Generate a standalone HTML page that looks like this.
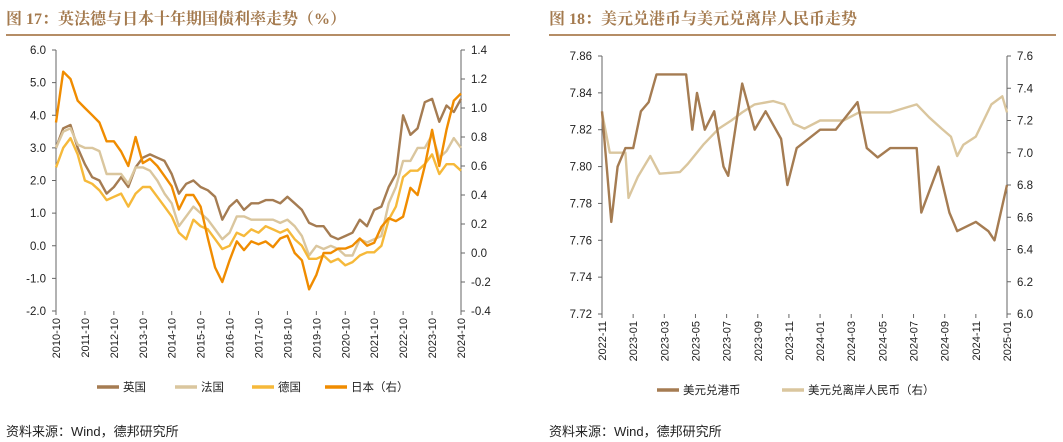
<!DOCTYPE html>
<html><head><meta charset="utf-8">
<style>
body{margin:0;width:1063px;height:442px;background:#fff;overflow:hidden;font-family:"Liberation Sans","Noto Sans CJK SC",sans-serif;}
svg{position:absolute;left:0;top:0}
.tt{font-family:"Liberation Serif","Noto Serif CJK SC",serif;}
</style></head>
<body>
<svg id="s" width="1063" height="442">
<text class="tt" x="6" y="24" font-size="16" font-weight="bold" fill="#a47a4e">图 17：英法德与日本十年期国债利率走势（%）</text>
<line x1="6" y1="35" x2="510" y2="35" stroke="#b58d66" stroke-width="2"/>
<text class="tt" x="549" y="24" font-size="16" font-weight="bold" fill="#a47a4e">图 18：美元兑港币与美元兑离岸人民币走势</text>
<line x1="549" y1="35" x2="1056" y2="35" stroke="#b58d66" stroke-width="2"/>
<text x="6" y="436" font-size="13" fill="#222">资料来源：Wind，德邦研究所</text>
<text x="549" y="436" font-size="13" fill="#222">资料来源：Wind，德邦研究所</text>
</svg>
<script>
// ---- Chart 17 data (quarterly from 2010-10) ----
const bondXLabels=["2010-10","2011-10","2012-10","2013-10","2014-10","2015-10","2016-10","2017-10","2018-10","2019-10","2020-10","2021-10","2022-10","2023-10","2024-10"];
const bondLeftTicks=[6.0,5.0,4.0,3.0,2.0,1.0,0.0,-1.0,-2.0];
const bondRightTicks=[1.4,1.2,1.0,0.8,0.6,0.4,0.2,0.0,-0.2,-0.4];
const ukYield=[3.0,3.6,3.7,3.0,2.5,2.1,2.0,1.6,1.8,2.1,1.8,2.4,2.7,2.8,2.7,2.6,2.2,1.6,1.9,2.0,1.8,1.7,1.5,0.8,1.2,1.4,1.1,1.3,1.3,1.4,1.4,1.3,1.5,1.3,1.1,0.7,0.6,0.6,0.3,0.2,0.3,0.4,0.8,0.6,1.1,1.2,1.8,2.2,4.0,3.4,3.6,4.4,4.5,3.8,4.3,4.1,4.5];
const frYield=[3.0,3.5,3.6,3.1,3.0,3.0,2.9,2.2,2.2,2.2,1.9,2.4,2.4,2.3,2.0,1.6,1.3,0.6,0.9,1.2,1.0,0.8,0.5,0.2,0.4,0.9,0.9,0.8,0.8,0.8,0.8,0.7,0.8,0.6,0.3,-0.3,0.0,-0.1,0.0,-0.1,-0.3,-0.3,0.2,0.1,0.2,0.3,1.3,1.8,2.6,2.6,3.0,3.0,3.4,2.7,2.9,3.3,3.0];
const deYield=[2.4,3.0,3.3,2.8,2.0,1.9,1.7,1.4,1.5,1.6,1.2,1.6,1.8,1.8,1.5,1.2,0.9,0.4,0.2,0.8,0.6,0.5,0.2,-0.1,0.0,0.4,0.3,0.5,0.4,0.6,0.5,0.4,0.5,0.2,0.0,-0.4,-0.4,-0.3,-0.5,-0.4,-0.6,-0.5,-0.3,-0.2,-0.2,0.0,0.8,1.2,2.1,2.3,2.3,2.5,2.8,2.2,2.5,2.5,2.3];
const jpYield=[0.9,1.25,1.2,1.05,1.0,0.95,0.9,0.77,0.77,0.7,0.6,0.8,0.62,0.65,0.6,0.53,0.46,0.3,0.4,0.4,0.32,0.1,-0.1,-0.2,-0.05,0.08,0.02,0.08,0.06,0.08,0.04,0.1,0.12,0.0,-0.05,-0.25,-0.15,0.0,0.0,0.03,0.03,0.05,0.1,0.05,0.07,0.18,0.24,0.22,0.25,0.45,0.4,0.6,0.85,0.6,0.85,1.05,1.1];
// ---- Chart 18 data (month index from 2022-11) ----
const fxXLabels=["2022-11","2023-01","2023-03","2023-05","2023-07","2023-09","2023-11","2024-01","2024-03","2024-05","2024-07","2024-09","2024-11","2025-01"];
const fxLeftTicks=[7.86,7.84,7.82,7.80,7.78,7.76,7.74,7.72];
const fxRightTicks=[7.6,7.4,7.2,7.0,6.8,6.6,6.4,6.2,6.0];
const hkdMonths=[0,0.3,0.6,1,1.5,2,2.5,3,3.5,4,5,5.4,5.8,6.1,6.6,7.2,7.8,8.1,9.0,9.8,10.5,11.5,11.9,12.5,14,15,16.4,17,17.7,18.5,19.5,20.2,20.5,21.6,22.3,22.8,24,24.8,25.2,26];
const hkdRate=[7.83,7.80,7.77,7.80,7.81,7.81,7.83,7.835,7.85,7.85,7.85,7.85,7.82,7.84,7.82,7.83,7.80,7.795,7.845,7.82,7.83,7.815,7.79,7.81,7.82,7.82,7.835,7.81,7.805,7.81,7.81,7.81,7.775,7.80,7.775,7.765,7.77,7.765,7.76,7.79];
const cnhMonths=[0,0.5,1.5,1.7,2.3,3.1,3.7,5,5.5,6.5,7.5,8.3,9,9.8,11,11.7,12.3,13,14,15.5,16.5,17.5,18.5,19.5,20.2,21,21.8,22.4,22.8,23.2,24,24.5,25,25.7,26];
const cnhRate=[7.25,7.0,7.0,6.72,6.85,6.98,6.87,6.88,6.93,7.05,7.15,7.2,7.25,7.3,7.32,7.3,7.18,7.15,7.2,7.2,7.25,7.25,7.25,7.28,7.3,7.22,7.15,7.1,6.98,7.05,7.1,7.2,7.3,7.35,7.25];

const svg=document.getElementById('s');
const NS='http://www.w3.org/2000/svg';
function mk(tag,attrs,parent){const e=document.createElementNS(NS,tag);for(const k in attrs)e.setAttribute(k,attrs[k]);(parent||svg).appendChild(e);return e;}
function txt(x,y,s,anchor,size){const t=mk('text',{x:x,y:y,'font-size':size||11.5,fill:'#222','text-anchor':anchor||'start'});t.textContent=s;return t;}

function axes(o){
  const la=mk('line',{x1:o.x0,y1:o.y0,x2:o.x0,y2:o.y1,stroke:'#666'});
  
  const ra=mk('line',{x1:o.x1,y1:o.y0,x2:o.x1,y2:o.y1,stroke:'#666'});
  
  o.lt.forEach(v=>{const y=o.ly(v);mk('line',{x1:o.x0-4,y1:y,x2:o.x0,y2:y,stroke:'#666'});
    const t=txt(o.x0-10,y+4,v.toFixed(o.ld),'end');});
  o.rt.forEach(v=>{const y=o.ry(v);mk('line',{x1:o.x1,y1:y,x2:o.x1+4,y2:y,stroke:'#666'});
    const t=txt(o.x1+10,y+4,v.toFixed(o.rd),'start');});
  const n=o.xl.length;
  o.xl.forEach((s,i)=>{const x=o.x0+(o.x1-o.x0)*i/(n-1);
    mk('line',{x1:x,y1:o.y1,x2:x,y2:o.y1+4,stroke:'#666'});
    const t=txt(0,0,s,'end',11);t.setAttribute('transform',`translate(${x+4},${o.y1+7}) rotate(-90)`);
    });
}
function line(xs,ys,fx,fy,color,name){
  const pts=xs.map((x,i)=>fx(x).toFixed(1)+','+fy(ys[i]).toFixed(1)).join(' ');
  const p=mk('polyline',{points:pts,fill:'none',stroke:color,'stroke-width':2.4,'stroke-linejoin':'round'});
  
}
function legend(x,y,color,label,name){
  const l=mk('line',{x1:x,y1:y,x2:x+22,y2:y,stroke:color,'stroke-width':3.5});
  
  const t=txt(x+26,y+4,label,'start',11.5);
}

const A={x0:56,x1:461,y0:50,y1:311};
A.ly=v=>A.y0+(6-v)*(A.y1-A.y0)/8; A.ry=v=>A.y0+(1.4-v)*(A.y1-A.y0)/1.8;
A.lt=bondLeftTicks;A.rt=bondRightTicks;A.ld=1;A.rd=1;A.xl=bondXLabels;
axes(A);
const qx=i=>A.x0+(A.x1-A.x0)*i/56;
const qi=ukYield.map((_,i)=>i);
line(qi,ukYield,qx,A.ly,'#a57c52','uk-yield-line');
line(qi,frYield,qx,A.ly,'#dac69e','france-yield-line');
line(qi,deYield,qx,A.ly,'#f6b93a','germany-yield-line');
line(qi,jpYield,qx,A.ry,'#f08c00','japan-yield-line');
legend(97,387,'#a57c52','英国','legend-uk');
legend(175,387,'#dac69e','法国','legend-france');
legend(252,387,'#f6b93a','德国','legend-germany');
legend(325,387,'#f08c00','日本（右）','legend-japan');

const B={x0:602,x1:1007,y0:56,y1:314};
B.ly=v=>B.y0+(7.86-v)*(B.y1-B.y0)/0.14; B.ry=v=>B.y0+(7.6-v)*(B.y1-B.y0)/1.6;
B.lt=fxLeftTicks;B.rt=fxRightTicks;B.ld=2;B.rd=1;B.xl=fxXLabels;
axes(B);
const mx=m=>B.x0+(B.x1-B.x0)*m/26;
line(cnhMonths,cnhRate,mx,B.ry,'#dac69e','usd-cnh-line');
line(hkdMonths,hkdRate,mx,B.ly,'#a57c52','usd-hkd-line');
legend(657,390,'#a57c52','美元兑港币','legend-usd-hkd');
legend(782,390,'#dac69e','美元兑离岸人民币（右）','legend-usd-cnh');
</script>
</body></html>
